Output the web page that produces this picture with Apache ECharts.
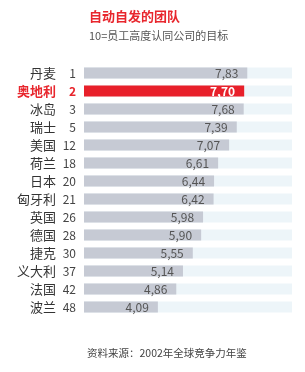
<!DOCTYPE html>
<html><head><meta charset="utf-8">
<script src="https://cdn.jsdelivr.net/npm/echarts@6/dist/echarts.min.js"></script>
<style>html,body{margin:0;padding:0;background:#fff}#c{width:305px;height:372px}</style>
</head><body><div id="c"></div>
<script>
const countries = ['丹麦','奥地利','冰岛','瑞士','美国','荷兰','日本','匈牙利','英国','德国','捷克','义大利','法国','波兰'];
const ranks = [1,2,3,5,12,18,20,21,26,28,30,37,42,48];
const values = [7.83,7.70,7.68,7.39,7.07,6.61,6.44,6.42,5.98,5.90,5.55,5.14,4.86,4.09];
const highlight = '奥地利';

const FONT = '"Noto Sans CJK SC", "Noto Sans", sans-serif';
const chart = echarts.init(document.getElementById('c'), null, {renderer:'canvas'});
const cats = countries.map((c,i)=>c+'|'+ranks[i]);
chart.setOption({
  animation:false,
  textStyle:{fontFamily:FONT},
  title:[
    {text:'自动自发的团队', left:84, top:5, textStyle:{fontSize:13, fontWeight:'bold', color:'#e8262d', fontFamily:FONT}},
    {text:'10=员工高度认同公司的目标', left:84, top:25, textStyle:{fontSize:11, fontWeight:'normal', color:'#555', fontFamily:FONT}},
    {text:'资料来源：2002年全球竞争力年鉴', left:82, top:343, textStyle:{fontSize:10.5, fontWeight:'normal', color:'#444', fontFamily:FONT}}
  ],
  grid:{left:84, right:13, top:64, bottom:56, containLabel:false},
  xAxis:{type:'value', min:1, max:9.7, show:false},
  yAxis:{type:'category', inverse:true, data:cats,
    axisLine:{show:false}, axisTick:{show:false},
    axisLabel:{margin:8,
      formatter:function(v){
        const [n,r]=v.split('|');
        if(n===highlight) return '{nh|'+n+'}{rh|'+r+'}';
        return '{n|'+n+'}{r|'+r+'}';
      },
      rich:{
        n:{width:40, align:'right', fontSize:13, color:'#333', fontFamily:FONT},
        r:{width:20, align:'right', fontSize:12, color:'#444', fontFamily:FONT},
        nh:{width:40, align:'right', fontSize:13, color:'#e8262d', fontWeight:'bold', fontFamily:FONT},
        rh:{width:20, align:'right', fontSize:12, color:'#e8262d', fontWeight:'bold', fontFamily:FONT}
      }
    }
  },
  series:[{
    type:'bar', barWidth:11,
    showBackground:true,
    backgroundStyle:{color:'#edf5f9'},
    data:values.map((v,i)=>({
      value:v,
      itemStyle:{color: countries[i]===highlight ? '#e8202a' : '#c6cad4'},
      label: countries[i]===highlight ? {color:'#fff', fontWeight:'bold'} : {}
    })),
    label:{show:true, position:'insideRight', distance:9, fontSize:12, color:'#555', fontFamily:FONT,
      formatter:p=>p.value.toFixed(2).replace('.',',')}
  }]
});
</script></body></html>
